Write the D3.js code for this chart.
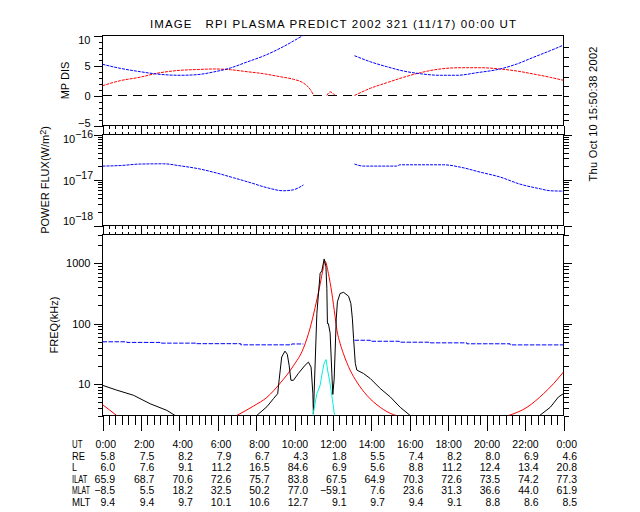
<!DOCTYPE html>
<html><head><meta charset="utf-8">
<script src="https://cdn.jsdelivr.net/npm/d3@7"></script>
<style>
body{margin:0;background:#fff;}
text{font-family:"Liberation Sans",Arial,sans-serif;fill:#000;}
</style>
</head><body>
<svg id="c" width="640" height="512"></svg>
<script>
// ---------------- DATA ----------------
const titleText = "IMAGE   RPI PLASMA PREDICT 2002 321 (11/17) 00:00 UT";
const dateText = "Thu Oct 10 15:50:38 2002";
const hourTicks = [0,2,4,6,8,10,12,14,16,18,20,22,24];
const utLabels = ["0:00","2:00","4:00","6:00","8:00","10:00","12:00","14:00","16:00","18:00","20:00","22:00","0:00"];
const rowLabels = ["UT","RE","L","ILAT","MLAT","MLT"];
const rowRE   = [5.8,7.5,8.2,7.9,6.7,4.3,1.8,5.5,7.4,8.2,8.0,6.9,4.6];
const rowL    = [6.0,7.6,9.1,11.2,16.5,84.6,6.9,5.6,8.8,11.2,12.4,13.4,20.8];
const rowILAT = [65.9,68.7,70.6,72.6,75.7,83.8,67.5,64.9,70.3,72.6,73.5,74.2,77.3];
const rowMLAT = [-8.5,5.5,18.2,32.5,50.2,77.0,-59.1,7.6,23.6,31.3,36.6,44.0,61.9];
const rowMLT  = [9.4,9.4,9.7,10.1,10.6,12.7,9.1,9.7,9.4,9.1,8.8,8.6,8.5];

// Panel 1: MP DIS
const mpMajorTicks = [-5,0,5,10];
const mpRightTicks = [8.1,6.5,5.0,3.1,1.6,0,-1.6,-3.0,-4.1];
const mpBlueA = [[0,5.2],[0.92,4.53],[1.96,3.97],[2.83,3.58],[4.04,3.37],[4.91,3.47],[5.78,3.92],[6.65,4.58],[7.52,5.58],[8.38,6.58],[9.25,7.87],[9.94,9.08],[10.46,10.08],[10.6,10.4]];
const mpBlueB = [[13.12,6.63],[13.94,5.63],[14.8,4.8],[15.67,4.08],[16.54,3.63],[17.58,3.37],[18.45,3.37],[19.49,3.8],[20.7,4.42],[21.57,5.25],[22.44,6.37],[23.31,7.47],[24,8.4]];
const mpRedA = [[0,1.63],[0.92,2.47],[1.96,3.05],[2.83,3.7],[4.04,4.2],[4.91,4.33],[5.78,4.42],[6.65,4.3],[7.52,3.97],[8.38,3.63],[9.25,3.13],[9.94,2.7],[10.46,2.08],[10.81,1.03],[11.0,0]];
const mpRedB = [[11.68,0],[11.85,0.6],[12.11,0]];
const mpRedC = [[13.12,0],[13.94,1.2],[14.8,2.13],[15.67,3.03],[16.54,3.8],[17.58,4.42],[18.62,4.63],[19.66,4.63],[20.7,4.42],[21.57,4.08],[22.44,3.58],[23.31,3.03],[24,2.53]];

// Panel 2: POWER FLUX
const pfMajorTicks = [1e-18,1e-17,1e-16];
const pfBlueA = [[0,2.02e-17],[0.92,2.08e-17],[1.96,2.24e-17],[3.18,2.27e-17],[4.04,2.05e-17],[5.08,1.74e-17],[5.95,1.42e-17],[6.82,1.12e-17],[7.68,0.88e-17],[8.55,0.68e-17],[9.42,0.58e-17],[9.94,0.61e-17],[10.46,0.78e-17]];
const pfBlueB = [[13.12,2.24e-17],[13.6,2.02e-17],[15.3,2.02e-17],[15.5,2.16e-17],[17.75,2.16e-17],[18.62,1.92e-17],[19.66,1.49e-17],[20.7,1.16e-17],[21.74,0.81e-17],[22.79,0.64e-17],[23.31,0.58e-17],[24,0.57e-17]];

// Panel 3: FREQ (kHz)
const fMajorTicks = [10,100,1000];
const fBlueA = [[0,50],[1.27,48.8],[3.0,47.5],[4.9,46.5],[7.2,44.5],[9.85,46],[10.46,46]];
const fBlueB = [[13.12,53],[13.94,51],[15.45,49.2],[17.06,48],[18.97,46.3],[21.22,44.4],[24,44.4]];
const fRedA = [[0,4.55],[0.39,3.65],[0.74,3.0]];
const fRedB = [[6.99,3.0],[7.86,4.3],[8.56,6.0],[9.25,10.3],[9.94,20],[10.46,39],[10.81,85],[11.07,185],[11.33,450],[11.5,850],[11.59,1080],[11.76,680],[11.94,320],[12.11,130],[12.2,80],[12.37,47],[12.54,32],[12.89,17],[13.24,10.8],[13.76,6.5],[14.46,4.1],[15.15,3.1],[15.3,3.0]];
const fRedC = [[21.14,3.0],[22.1,4.1],[22.96,6.9],[23.48,10.1],[24,15.8]];
const fBlackA = [[0,9.5],[0.74,7.9],[1.61,6.5],[2.48,4.7],[3.35,3.65],[3.78,3.0]];
const fBlackB = [[8.03,3.0],[8.56,4.2],[8.9,5.7],[9.12,6.9],[9.2,12],[9.33,28],[9.5,35],[9.62,31],[9.72,20],[9.81,11.5],[9.94,11.5],[10.2,15],[10.55,20.5],[10.72,23],[10.86,19],[10.95,7],[10.98,3.2],[11.16,148],[11.33,682],[11.42,750],[11.54,1180],[11.63,900],[11.68,385],[11.71,100],[11.76,100],[11.85,70],[11.94,15],[11.99,6.7],[12.06,12],[12.17,120],[12.23,230],[12.37,316],[12.55,330],[12.81,285],[12.93,216],[13.01,120],[13.07,57],[13.16,22],[13.24,17],[13.59,14.9],[13.94,12.3],[14.46,8.4],[14.98,6.1],[15.5,4.1],[16.02,3.0]];
const fBlackC = [[22.76,3.0],[23.31,4.1],[23.74,6.1],[24,6.9]];
const fCyan = [[10.95,3],[11.16,6.9],[11.33,9.5],[11.45,16],[11.54,22],[11.64,25.4],[11.72,17],[11.85,10],[11.97,5.5],[12.08,3]];

// ---------------- LAYOUT ----------------
const svg = d3.select("#c");
const FONT = "Liberation Sans, Arial, sans-serif";
const X0 = 102.5, X1 = 563.5;
const p1 = {top:35.5, bottom:125.5};
const p2 = {top:134.5, bottom:225.5};
const p3 = {top:234.5, bottom:415.5};

const x = d3.scaleLinear().domain([0,24]).range([X0,X1]);
const y1 = d3.scaleLinear().domain([-5,10]).range([p1.bottom,p1.top]);
const y2 = d3.scaleLog().domain([1e-18,1e-16]).range([p2.bottom,p2.top]);
const y3 = d3.scaleLog().domain([3,3000]).range([p3.bottom,p3.top]);

const minorHours = d3.range(0,73).map(i=>i/3);
const clamp = (v,a,b)=>Math.max(a,Math.min(b,v));

// clip paths
const defs = svg.append("defs");
[p1,p2,p3].forEach((p,i)=>{
  defs.append("clipPath").attr("id","clip"+i).append("rect")
    .attr("x",X0).attr("y",p.top).attr("width",X1-X0).attr("height",p.bottom-p.top);
});

function axisG(axis, tx, ty){
  const g = svg.append("g").attr("transform",`translate(${tx},${ty})`).call(axis);
  g.select(".domain").remove();
  g.attr("font-size",11).attr("font-family",FONT);
  g.selectAll(".tick line").attr("stroke","#000").attr("shape-rendering","crispEdges");
  return g;
}

// Frames
[p1,p2,p3].forEach(p=>{
  svg.append("rect").attr("x",X0).attr("y",p.top).attr("width",X1-X0).attr("height",p.bottom-p.top)
    .attr("fill","none").attr("stroke","#000").attr("stroke-width",1).attr("shape-rendering","crispEdges");
});

// X ticks between panels and at bottom
axisG(d3.axisBottom(x).tickValues(hourTicks).tickSize(4.5).tickFormat(""),0,p1.bottom);
axisG(d3.axisBottom(x).tickValues(minorHours).tickSize(3).tickFormat(""),0,p1.bottom);
axisG(d3.axisTop(x).tickValues(hourTicks).tickSize(4.5).tickFormat(""),0,p2.top);
axisG(d3.axisTop(x).tickValues(minorHours).tickSize(3).tickFormat(""),0,p2.top);
axisG(d3.axisBottom(x).tickValues(hourTicks).tickSize(4.5).tickFormat(""),0,p2.bottom);
axisG(d3.axisBottom(x).tickValues(minorHours).tickSize(3).tickFormat(""),0,p2.bottom);
axisG(d3.axisTop(x).tickValues(hourTicks).tickSize(4.5).tickFormat(""),0,p3.top);
axisG(d3.axisTop(x).tickValues(minorHours).tickSize(3).tickFormat(""),0,p3.top);
axisG(d3.axisBottom(x).tickValues(hourTicks).tickSize(15).tickFormat(""),0,p3.bottom);
axisG(d3.axisBottom(x).tickValues(minorHours).tickSize(9).tickFormat(""),0,p3.bottom);

// Panel 1 y axes
const g1 = axisG(d3.axisLeft(y1).tickValues(mpMajorTicks).tickSize(9).tickPadding(3),X0,0);
g1.selectAll(".tick text").attr("y",d=>clamp(y1(d),p1.top+4.5,p1.bottom-2.5)-y1(d));
axisG(d3.axisLeft(y1).tickValues(d3.range(-5,11)).tickSize(4).tickFormat(""),X0,0);
axisG(d3.axisRight(y1).tickValues(mpRightTicks).tickSize(5).tickFormat(""),X1,0);

// Panel 2 y axes
const pfMinor = [];
[-18,-17].forEach(e=>{ for(let k=2;k<=9;k++) pfMinor.push(k*Math.pow(10,e)); });
axisG(d3.axisLeft(y2).tickValues(pfMajorTicks).tickSize(9).tickFormat(""),X0,0);
axisG(d3.axisLeft(y2).tickValues(pfMinor).tickSize(5).tickFormat(""),X0,0);
axisG(d3.axisRight(y2).tickValues(pfMajorTicks).tickSize(8).tickFormat(""),X1,0);
axisG(d3.axisRight(y2).tickValues(pfMinor).tickSize(5).tickFormat(""),X1,0);
pfMajorTicks.forEach(t=>{
  const ty = y2(t);
  const by = clamp(ty+4.8, p2.top+8.6, p2.bottom-0.5);
  const txt = svg.append("text").attr("x",93).attr("y",by).attr("text-anchor","end").attr("font-size",11);
  txt.append("tspan").text("10");
  txt.append("tspan").attr("dy",-5.5).attr("font-size",10.5).text("\u2212"+Math.round(-Math.log10(t)));
});

// Panel 3 y axes
const fMinor = [3,4,5,6,7,8,9,20,30,40,50,60,70,80,90,200,300,400,500,600,700,800,900,2000,3000];
axisG(d3.axisLeft(y3).tickValues(fMajorTicks).tickSize(9).tickPadding(3).tickFormat(d3.format("d")),X0,0);
axisG(d3.axisLeft(y3).tickValues(fMinor).tickSize(5).tickFormat(""),X0,0);
axisG(d3.axisRight(y3).tickValues(fMajorTicks).tickSize(8).tickFormat(""),X1,0);
axisG(d3.axisRight(y3).tickValues(fMinor).tickSize(5).tickFormat(""),X1,0);

// ---------------- CURVES ----------------
function drawLine(data, yS, clipId, color, dash, curve){
  const line = d3.line().x(d=>x(d[0])).y(d=>yS(d[1])).curve(curve||d3.curveMonotoneX);
  svg.append("path").datum(data).attr("d",line).attr("fill","none")
    .attr("stroke",color).attr("stroke-width",1)
    .attr("stroke-dasharray",dash||null).attr("clip-path",`url(#${clipId})`);
}
// Panel 1
svg.append("line").attr("x1",x(0)).attr("x2",x(24)).attr("y1",y1(0)).attr("y2",y1(0))
  .attr("stroke","#000").attr("stroke-dasharray","9,6").attr("shape-rendering","crispEdges");
[mpRedA,mpRedB,mpRedC].forEach(s=>drawLine(s,y1,"clip0","#ff0000","3,1"));
[mpBlueA,mpBlueB].forEach(s=>drawLine(s,y1,"clip0","#0000ff","3,1"));
// Panel 2
[pfBlueA,pfBlueB].forEach(s=>drawLine(s,y2,"clip1","#0000ff","3,1"));
// Panel 3
[fBlueA,fBlueB].forEach(s=>drawLine(s,y3,"clip2","#0000ff","4.5,1.5",d3.curveStepAfter));
[fRedA,fRedB,fRedC].forEach(s=>drawLine(s,y3,"clip2","#ff0000",null));
[fBlackA,fBlackB,fBlackC].forEach(s=>drawLine(s,y3,"clip2","#000000",null,d3.curveLinear));
drawLine(fCyan,y3,"clip2","#00f0dc",null,d3.curveLinear);

// ---------------- TEXT ----------------
svg.append("text").attr("x",150).attr("y",28.3).attr("font-size",11.5)
  .attr("textLength",366).attr("lengthAdjust","spacing").style("white-space","pre").text(titleText);

svg.append("text").attr("transform","translate(597,114) rotate(-90)").attr("text-anchor","middle")
  .attr("font-size",11).attr("textLength",135).attr("lengthAdjust","spacing").text(dateText);

svg.append("text").attr("transform",`translate(69,${(p1.top+p1.bottom)/2}) rotate(-90)`)
  .attr("text-anchor","middle").attr("font-size",11).text("MP DIS");
const pft = svg.append("text").attr("transform",`translate(48.5,${(p2.top+p2.bottom)/2}) rotate(-90)`)
  .attr("text-anchor","middle").attr("font-size",11);
pft.append("tspan").text("POWER FLUX(W/m");
pft.append("tspan").attr("dy",-3).attr("font-size",9).text("2");
pft.append("tspan").attr("dy",3).text(")");
svg.append("text").attr("transform",`translate(58,${(p3.top+p3.bottom)/2}) rotate(-90)`)
  .attr("text-anchor","middle").attr("font-size",11).text("FREQ(kHz)");

// ---------------- TABLE ----------------
const fmt = d3.format(".1f");
const rowValues = [null,rowRE,rowL,rowILAT,rowMLAT,rowMLT];
const labelWidths = [10.5,13,5,15.5,18,18.5];
const tableY0 = 448, rowH = 11.6, TF = 10.5;
rowLabels.forEach((lab,r)=>{
  const yy = tableY0 + r*rowH;
  const lt = svg.append("text").attr("font-size",TF).text(lab);
  const natural = lt.node().getComputedTextLength();
  const sx = Math.min(1, labelWidths[r]/natural);
  lt.attr("transform",`translate(72,${yy}) scale(${sx},1)`);
  hourTicks.forEach((h,i)=>{
    let str, xx;
    if(r===0){ str = utLabels[i]; xx = x(h)+13.5; }
    else { str = fmt(rowValues[r][i]); xx = i===0 ? x(h)+12.5 : x(h)+13.5; }
    svg.append("text").attr("x",xx).attr("y",yy).attr("text-anchor","end").attr("font-size",TF).text(str);
  });
});
</script>
</body></html>
